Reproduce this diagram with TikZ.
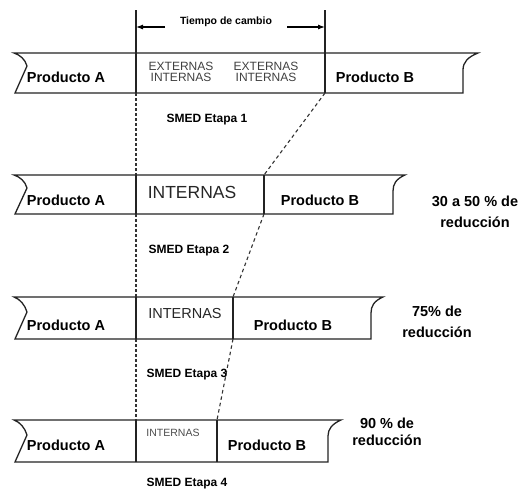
\documentclass[tikz,border=0pt]{standalone}
\usepackage{fontspec}
\setmainfont{Liberation Sans}
\usetikzlibrary{arrows.meta}

\tikzset{every picture/.style={line width=0.5pt}}
\tikzset{
  cinta/.style={draw={rgb,255:red,35;green,35;blue,35}, line width=1.3},
  divisor/.style={draw={rgb,255:red,35;green,35;blue,35}, line width=1.2},
  guia/.style={draw={rgb,255:red,50;green,50;blue,50}, line width=1.1, dash pattern={on 2.5pt off 2.5pt}},
  guiaoblicua/.style={draw={rgb,255:red,50;green,50;blue,50}, line width=1.1, dash pattern={on 3.5pt off 3pt}},
  producto/.style={inner sep=0.75pt, font=\fontsize{14.5}{17}\selectfont\bfseries},
  etapa/.style={inner sep=0.75pt, font=\fontsize{12}{14}\selectfont\bfseries},
  reduccion/.style={inner sep=0.75pt, align=center, font=\fontsize{14.5}{17}\selectfont\bfseries},
}

\begin{document}
\begin{tikzpicture}[x=1pt,y=1pt,yscale=-1,xscale=1]
\useasboundingbox (0,0) rectangle (530,491);

%Coordinates of the dividers
\coordinate (izqT) at (136,10);
\coordinate (derT) at (325,10);
\coordinate (izq1s) at (136,53);  \coordinate (izq1i) at (136,93);
\coordinate (der1s) at (325,53);  \coordinate (der1i) at (325,93);
\coordinate (izq2s) at (136,175); \coordinate (izq2i) at (136,214);
\coordinate (der2s) at (264,175); \coordinate (der2i) at (264,214);
\coordinate (izq3s) at (136,297); \coordinate (izq3i) at (136,339);
\coordinate (der3s) at (233,297); \coordinate (der3i) at (233,339);
\coordinate (izq4s) at (136,420); \coordinate (izq4i) at (136,462);
\coordinate (der4s) at (217,420); \coordinate (der4i) at (217,462);

%Band 1
\draw [cinta] (14,53) -- (478,53) .. controls (468,57) and (463,62) .. (463,70) -- (463,93) -- (15,93) -- (27,66) .. controls (25,59) and (20,55) .. (14,53) -- cycle ;
%Band 2
\draw [cinta] (14,175) -- (405,175) .. controls (396,179) and (393,184) .. (393,191) -- (393,214) -- (15,214) -- (27,188) .. controls (25,181) and (20,177) .. (14,175) -- cycle ;
%Band 3
\draw [cinta] (14,297) -- (383,297) .. controls (374,301) and (371,306) .. (371,313) -- (371,339) -- (15,339) -- (27,312) .. controls (25,305) and (20,299) .. (14,297) -- cycle ;
%Band 4
\draw [cinta] (14,420) -- (341,420) .. controls (332,424) and (328,429) .. (328,436) -- (328,462) -- (15,462) -- (27,435) .. controls (25,428) and (20,422) .. (14,420) -- cycle ;

%Straight Lines
\draw [divisor] (izqT) -- (izq1i) ;
\draw [divisor] (derT) -- (der1i) ;
\draw [divisor] (izq2s) -- (izq2i) ;
\draw [divisor] (der2s) -- (der2i) ;
\draw [divisor] (izq3s) -- (izq3i) ;
\draw [divisor] (der3s) -- (der3i) ;
\draw [divisor] (izq4s) -- (izq4i) ;
\draw [divisor] (der4s) -- (der4i) ;

%Dashed Lines
\draw [guia] (izq1i) -- (izq2s) ;
\draw [guia] (izq2i) -- (izq3s) ;
\draw [guia] (izq3i) -- (izq4s) ;
\draw [guiaoblicua] (der1i) -- (der2s) ;
\draw [guiaoblicua] (der2i) -- (der3s) ;
\draw [guiaoblicua] (der3i) -- (der4s) ;

% Text Node
\node [inner sep=0.75pt, font=\fontsize{10.5}{12}\selectfont\bfseries] (tiempo) at (226,22) {Tiempo de cambio};
%Arrows
\coordinate (flechaI) at (136,27);
\coordinate (flechaD) at (325,27);
\coordinate (tramoI) at (165,27);
\coordinate (tramoD) at (287,27);
\draw [line width=1.1, -{Latex[length=7pt,width=5pt]}] (tramoI) -- (flechaI) ;
\draw [line width=1.1, -{Latex[length=7pt,width=5pt]}] (tramoD) -- (flechaD) ;

% Text Node
\node [producto] (prodA1) at (66,77) {Producto A};
\node [producto] (prodB1) at (375,77) {Producto B};
\node [inner sep=0.75pt, align=center, text=black!75, font=\fontsize{12}{11.5}\selectfont] (mixta1) at (181,72) {EXTERNAS\\INTERNAS};
\node [inner sep=0.75pt, align=center, text=black!75, font=\fontsize{12}{11.5}\selectfont] (mixta2) at (266,72) {EXTERNAS\\INTERNAS};
\node [etapa] (etapa1) at (207,120) {SMED Etapa 1};

% Text Node
\node [producto] (prodA2) at (66,200) {Producto A};
\node [inner sep=0.75pt, text=black!85, font=\fontsize{17.5}{20}\selectfont] (internas2) at (192,192) {INTERNAS};
\node [producto] (prodB2) at (320,200) {Producto B};
\node [reduccion] (red2) at (475,212) {30 a 50 \% de\\[4pt]reducción};
\node [etapa] (etapa2) at (189,251) {SMED Etapa 2};

% Text Node
\node [producto] (prodA3) at (66,325) {Producto A};
\node [inner sep=0.75pt, text=black!85, font=\fontsize{14.5}{17}\selectfont] (internas3) at (185,313) {INTERNAS};
\node [producto] (prodB3) at (293,325) {Producto B};
\node [reduccion] (red3) at (437,322) {75\% de\\[4pt]reducción};
\node [etapa] (etapa3) at (187,375) {SMED Etapa 3};

% Text Node
\node [producto] (prodA4) at (66,445) {Producto A};
\node [inner sep=0.75pt, text=black!70, font=\fontsize{10.5}{12}\selectfont] (internas4) at (173,433) {INTERNAS};
\node [producto] (prodB4) at (267,445) {Producto B};
\node [reduccion] (red4) at (387,432) {90 \% de\\reducción};
\node [etapa] (etapa4) at (187,484) {SMED Etapa 4};
\end{tikzpicture}
\end{document}
